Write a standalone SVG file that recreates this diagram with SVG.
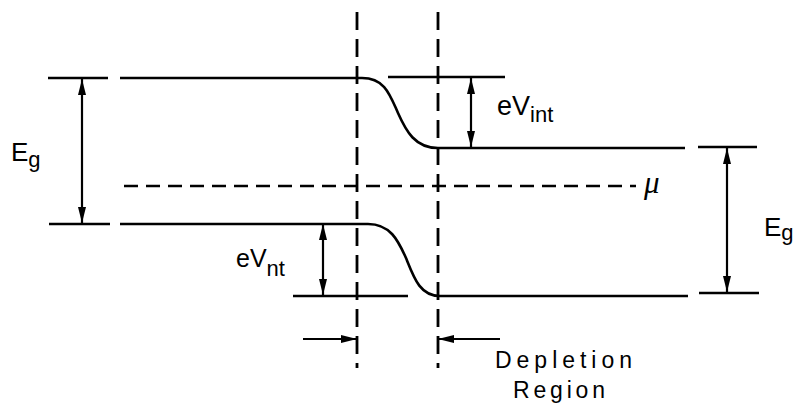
<svg xmlns="http://www.w3.org/2000/svg" width="801" height="410" viewBox="0 0 801 410">
<defs>
<style>
.ln{stroke:#000;stroke-width:2.6;fill:none}
.dv{stroke:#000;stroke-width:2.8;fill:none;stroke-dasharray:18 9}
.dh{stroke:#000;stroke-width:2.6;fill:none;stroke-dasharray:14 8}
.ar{stroke:#000;stroke-width:2.2;fill:none;marker-start:url(#ah);marker-end:url(#ah)}
.ae{stroke:#000;stroke-width:2.2;fill:none;marker-end:url(#ah)}
text{font-family:"Liberation Sans","DejaVu Sans",Arial,sans-serif;fill:#000}
.lb{font-size:26px}
.sb{font-size:22px}
.dep{font-size:23px}
</style>
<marker id="ah" viewBox="0 0 16 8" refX="16" refY="4" markerWidth="16" markerHeight="8" markerUnits="userSpaceOnUse" orient="auto-start-reverse">
<path d="M0,0 L16,4 L0,8 Z" fill="#000"/>
</marker>
</defs>
<rect width="801" height="410" fill="#fff"/>
<g id="bands">
<path class="ln" d="M120 78 H362 C385 78 390 95 398 113 C406 131 415 148 438 148 H685"/>
<path class="ln" d="M120 224 H368 C390 224 398 240 406 258 C414 278 420 296 440 296 H688"/>
<path class="dh" d="M124 186 H636"/>
</g>
<g id="boundaries">
<path class="dv" d="M357 12 V368"/>
<path class="dv" d="M438 12 V368"/>
</g>
<g id="ticks">
<path class="ln" d="M48 78 H108"/>
<path class="ln" d="M49 224 H110"/>
<path class="ln" d="M388 77 H505"/>
<path class="ln" d="M293 296 H408"/>
<path class="ln" d="M698 147 H757"/>
<path class="ln" d="M699 293 H759"/>
</g>
<g id="connectors">
<path class="ar" d="M82 79 V223"/>
<path class="ar" d="M471 78 V147"/>
<path class="ar" d="M323 224 V295"/>
<path class="ar" d="M727 148 V292"/>
<path class="ae" d="M303 339 H357"/>
<path class="ae" d="M500 339 H438"/>
</g>
<g id="labels">
<text class="lb" x="11" y="161">E<tspan class="sb" dy="6">g</tspan></text>
<text class="lb" x="764" y="236">E<tspan class="sb" dy="4">g</tspan></text>
<text class="lb" x="497" y="115" style="font-size:27px">eV<tspan class="sb" dy="7">int</tspan></text>
<text class="lb" x="236" y="267" style="font-size:25px">eV<tspan class="sb" dy="9">nt</tspan></text>
<text x="644" y="193" style="font-size:31px;font-style:italic;font-family:'Liberation Serif',serif">μ</text>
<text class="dep" x="495" y="368" textLength="137" lengthAdjust="spacing">Depletion</text>
<text class="dep" x="513" y="398" textLength="92" lengthAdjust="spacing">Region</text>
</g>
</svg>
